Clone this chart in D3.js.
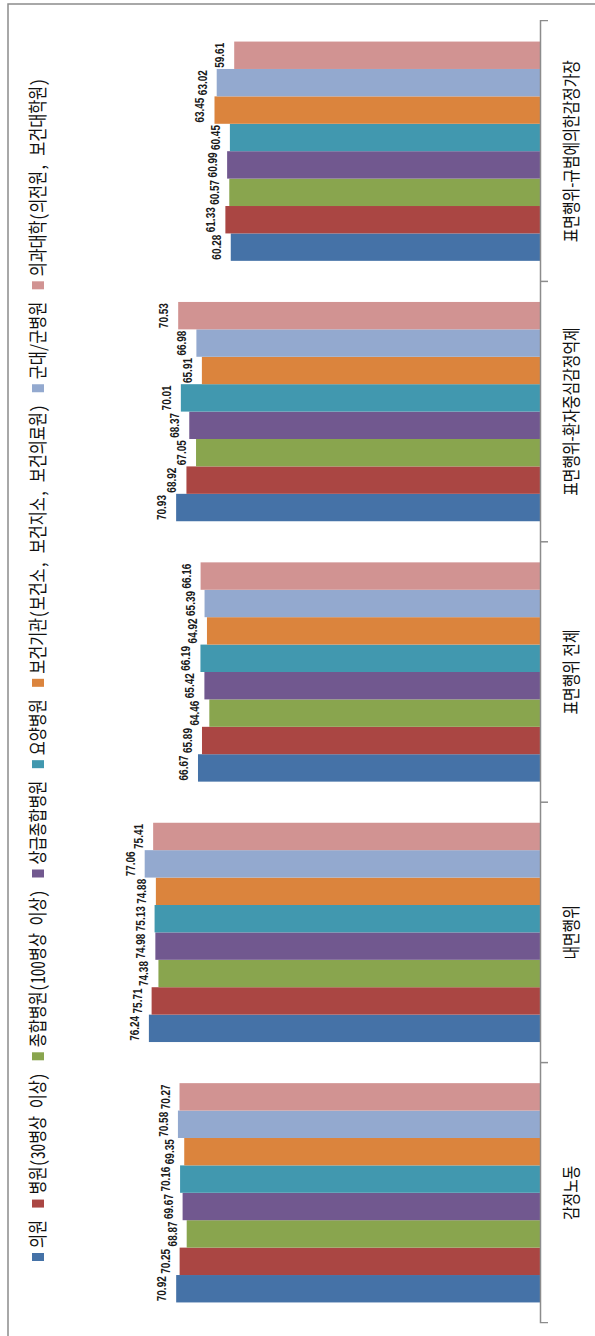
<!DOCTYPE html>
<html><head><meta charset="utf-8">
<script src="https://cdn.jsdelivr.net/npm/d3@7"></script>
<style>
  body { margin: 0; background: #fff; }
  svg { display: block; }
</style>
</head><body>
<svg id="chart" width="595" height="1336"></svg>
<script>
// Categories (job-stress dimensions) and institution types
const categories = ["감정노동", "내면행위", "표면행위 전체", "표면행위-환자중심감정억제", "표면행위-규범에의한감정가장"];
const seriesNames = ["의원", "병원(30병상 이상)", "종합병원(100병상 이상)", "상급종합병원", "요양병원",
                     "보건기관(보건소, 보건지소, 보건의료원)", "군대/군병원", "의과대학(의전원, 보건대학원)"];
const seriesColors = ["#4572A7", "#AA4643", "#89A54E", "#71588F", "#4198AF", "#DB843D", "#93A9CF", "#D19392"];

// Mean scores per institution type, one value per category
const clinicVals   = [70.92, 76.24, 66.67, 70.93, 60.28];
const hospitalVals = [70.25, 75.71, 65.89, 68.92, 61.33];
const generalVals  = [68.87, 74.38, 64.46, 67.05, 60.57];
const tertiaryVals = [69.67, 74.98, 65.42, 68.37, 60.99];
const nursingVals  = [70.16, 75.13, 66.19, 70.01, 60.45];
const publicVals   = [69.35, 74.88, 64.92, 65.91, 63.45];
const militaryVals = [70.58, 77.06, 65.39, 66.98, 63.02];
const schoolVals   = [70.27, 75.41, 66.16, 70.53, 59.61];

const seriesValues = [clinicVals, hospitalVals, generalVals, tertiaryVals,
                      nursingVals, publicVals, militaryVals, schoolVals];

const svg = d3.select("#chart");

// Outer frame
svg.append("rect")
  .attr("x", 8).attr("y", 4).attr("width", 640).attr("height", 1400)
  .attr("fill", "none").attr("stroke", "#8c8c8c").attr("stroke-width", 1.5);

// The chart is laid out as an ordinary column chart and turned on its side.
const squeeze = 0.8;
const g = svg.append("g")
  .attr("transform", `translate(0,1336) rotate(-90) scale(${squeeze},1)`);

const baseY = 540;
const x0 = d3.scaleBand().domain(categories).range([13 / squeeze, 1315 / squeeze]);
const x1 = d3.scaleBand().domain(d3.range(seriesNames.length))
  .range([0, x0.bandwidth()]).paddingInner(0).paddingOuter(0.75);
const y = d3.scaleLinear().domain([0, 100]).range([baseY, 27]);

// Bars
const groups = g.append("g").selectAll("g")
  .data(categories)
  .join("g")
  .attr("transform", d => `translate(${x0(d)},0)`);

groups.selectAll("rect")
  .data((c, ci) => seriesValues.map((vals, si) => ({ si, v: vals[ci] })))
  .join("rect")
  .attr("x", d => x1(d.si))
  .attr("width", x1.bandwidth())
  .attr("y", d => y(d.v))
  .attr("height", d => baseY - y(d.v))
  .attr("fill", d => seriesColors[d.si]);

// Value labels
const fmt = d3.format(".2f");
groups.selectAll("text.val")
  .data((c, ci) => seriesValues.map((vals, si) => ({ si, v: vals[ci] })))
  .join("text")
  .attr("class", "val")
  .attr("x", d => x1(d.si) + x1.bandwidth() / 2)
  .attr("y", d => y(d.v) - 10)
  .attr("text-anchor", "middle")
  .attr("font-family", "Liberation Sans, Arial, sans-serif")
  .attr("font-weight", "bold")
  .attr("font-size", 12.5)
  .attr("fill", "#1a1a1a")
  .text(d => fmt(d.v));

// Category axis
const axis = g.append("g")
  .attr("transform", `translate(0,${baseY})`)
  .call(d3.axisBottom(x0).tickSizeInner(0).tickSizeOuter(8));
axis.select(".domain").attr("stroke", "#8c8c8c").attr("stroke-width", 1.5);
axis.selectAll(".tick line").remove();
axis.selectAll(".tick text")
  .attr("y", 38).attr("dy", 0)
  .attr("font-family", "Noto Sans CJK KR, sans-serif")
  .attr("font-size", 18.5)
  .attr("fill", "#111");

// Tick marks between categories
axis.selectAll("line.sep")
  .data(categories.slice(1))
  .join("line")
  .attr("class", "sep")
  .attr("x1", d => x0(d)).attr("x2", d => x0(d))
  .attr("y1", 0).attr("y2", 8)
  .attr("stroke", "#8c8c8c").attr("stroke-width", 1.5 / squeeze);

// Legend (half-width Latin glyphs, as in the Korean UI font)
const legend = g.append("g");
let lx = 75 / squeeze;
seriesNames.forEach((name, i) => {
  legend.append("rect")
    .attr("x", lx).attr("y", 32)
    .attr("width", 10).attr("height", 12)
    .attr("fill", seriesColors[i]);
  const t = legend.append("text")
    .attr("x", lx + 16.25).attr("y", 45)
    .attr("font-family", "Noto Sans Mono CJK KR, Noto Sans CJK KR, sans-serif")
    .attr("font-size", 19)
    .attr("fill", "#111")
    .text(name);
  lx += 16.25 + t.node().getComputedTextLength() + 15.6;
});
</script>
</body></html>
